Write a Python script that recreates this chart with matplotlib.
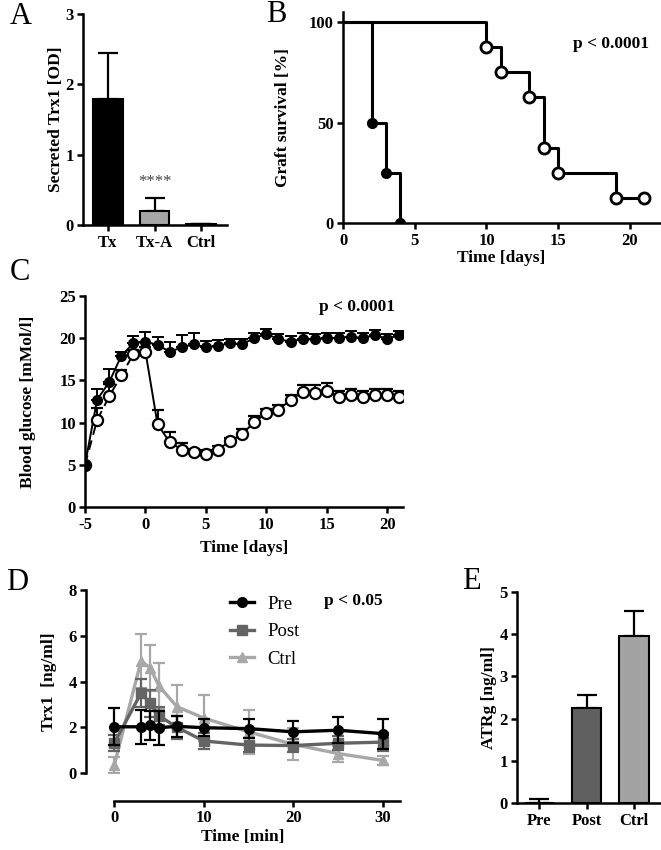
import matplotlib
matplotlib.use("Agg")
import matplotlib.pyplot as plt
import numpy as np

plt.rcParams.update({
    "font.family": "Liberation Serif",
    "font.weight": "bold",
    "axes.labelweight": "bold",
    "axes.unicode_minus": False,
    "axes.linewidth": 1.8,
    "xtick.major.width": 1.8,
    "ytick.major.width": 1.8,
    "xtick.major.size": 4.5,
    "ytick.major.size": 4.5,
    "xtick.major.pad": 2.5,
    "ytick.major.pad": 2,
    "xtick.labelsize": 12,
    "ytick.labelsize": 12,
    "axes.labelsize": 12.5,
})

# --- data ---
# A: secreted Trx1
a_groups = ["Tx", "Tx-A", "Ctrl"]
a_vals = [1.79, 0.20, 0.01]
a_err = [0.66, 0.19, 0.0]

# B: graft survival (Kaplan-Meier)
b_fill_t = [0, 2, 3, 4]
b_fill_s = [100, 50, 25, 0]
b_open_t = [0, 10, 11, 13, 14, 15, 19, 21]
b_open_s = [100, 87.5, 75, 62.5, 37.5, 25, 12.5, 12.5]

# C: blood glucose
c_days = list(range(-5, 22))
c_fill = [5.0, 12.7, 14.8, 17.9, 19.4, 19.6, 19.2, 18.4, 18.9, 19.3, 18.9, 19.1, 19.4, 19.3,
          20.0, 20.5, 19.9, 19.6, 19.9, 19.85, 20.0, 20.0, 20.2, 20.0, 20.4, 19.9, 20.4]
c_fill_err = [0.0, 1.3, 1.5, 0.5, 0.9, 1.1, 0.9, 1.2, 1.5, 1.3, 0.8, 0.7, 0.5, 0.6,
              0.6, 0.6, 0.6, 0.7, 0.7, 0.7, 0.6, 0.6, 0.7, 0.6, 0.6, 0.6, 0.5]
c_open = [5.0, 10.3, 13.1, 15.6, 18.1, 18.4, 9.8, 7.7, 6.8, 6.5, 6.3, 6.8, 7.8, 8.6,
          10.1, 11.1, 11.5, 12.7, 13.6, 13.5, 13.8, 13.0, 13.3, 13.0, 13.3, 13.3, 13.0]
c_open_err = [0.0, 1.4, 1.5, 0.6, 0.5, 0.5, 1.7, 1.2, 0.8, 0.4, 0.4, 0.4, 0.4, 0.6,
              0.7, 0.5, 0.6, 0.6, 0.9, 0.9, 0.9, 0.7, 0.7, 0.7, 0.7, 0.7, 0.7]

# D: Trx1 time course
d_time = [0, 3, 4, 5, 7, 10, 15, 20, 25, 30]
d_pre = [2.02, 2.02, 2.08, 1.98, 2.04, 1.98, 1.94, 1.8, 1.87, 1.72]
d_pre_err = [0.8, 0.75, 0.65, 0.75, 0.45, 0.38, 0.42, 0.48, 0.58, 0.65]
d_post = [1.3, 3.5, 3.05, 2.5, 2.0, 1.4, 1.22, 1.2, 1.3, 1.35]
d_post_err = [0.35, 0.63, 0.6, 0.38, 0.5, 0.35, 0.3, 0.3, 0.3, 0.4]
d_ctrl = [0.34, 4.9, 4.6, 3.8, 2.9, 2.4, 1.8, 1.25, 0.85, 0.55]
d_ctrl_err = [0.36, 1.18, 1.0, 1.0, 0.95, 1.0, 0.95, 0.7, 0.35, 0.2]

# E: ATRg
e_groups = ["Pre", "Post", "Ctrl"]
e_vals = [0.0, 2.25, 3.96]
e_err = [0.1, 0.3, 0.6]

W, H = 661, 850
fig = plt.figure(figsize=(W / 100, H / 100), dpi=100)


def box(x0, y_top, x1, y_bot):
    # pixel box -> figure fraction
    return [x0 / W, 1 - y_bot / H, (x1 - x0) / W, (y_bot - y_top) / H]


def clean(ax):
    ax.spines["top"].set_visible(False)
    ax.spines["right"].set_visible(False)


def letter(x, y, s):
    fig.text(x / W, 1 - y / H, s, fontsize=22, fontweight="normal", va="top", ha="left")


# ---------- A ----------
axA = fig.add_axes(box(83, 14, 227, 225))
clean(axA)
xa = np.arange(len(a_groups))
axA.bar(xa, a_vals, width=0.64, color=["black", "#a6a6a6", "white"],
        edgecolor="black", linewidth=1.5, zorder=2)
axA.errorbar(xa, a_vals, yerr=[np.zeros(3), a_err], fmt="none", ecolor="black",
             elinewidth=1.6, capsize=7, capthick=1.6, zorder=1)
axA.text(1, 0.5, "****", ha="center", va="bottom", fontsize=12, fontweight="normal", color="#444444")
axA.set_xlim(-0.53, 2.55)
axA.set_ylim(0, 3)
axA.set_yticks([0, 1, 2, 3])
axA.set_xticks(xa)
axA.set_xticklabels(a_groups)
axA.set_ylabel("Secreted Trx1 [OD]", labelpad=1)
letter(10, 2, "A")

# ---------- B ----------
axB = fig.add_axes(box(343, 12, 660, 223))
clean(axB)
axB.step(b_fill_t, b_fill_s, where="post", color="black", lw=2.2, zorder=2)
axB.step(b_open_t, b_open_s, where="post", color="black", lw=2.2, zorder=2)
axB.plot(b_fill_t[1:], b_fill_s[1:], "o", color="black", ms=7, zorder=3)
axB.plot(b_open_t[1:], b_open_s[1:], "o", mfc="white", mec="black", mew=2, ms=8, zorder=3)
axB.text(18.7, 89, "p < 0.0001", ha="center", va="center", fontsize=12.5)
axB.set_xlim(0, 22.1)
axB.set_ylim(0, 105)
axB.set_xticks([0, 5, 10, 15, 20])
axB.set_yticks([0, 50, 100])
axB.set_xlabel("Time [days]", labelpad=1)
axB.set_ylabel("Graft survival [%]", labelpad=13)
letter(266, 0, "B")

# ---------- C ----------
axC = fig.add_axes(box(85, 296, 403, 507))
clean(axC)
axC.plot(c_days[:6], c_open[:6], "--", color="black", lw=1.4, dashes=(5, 3), zorder=1)
axC.plot(c_days[5:], c_open[5:], "-", color="black", lw=1.4, zorder=1)
axC.plot(c_days, c_fill, "-", color="black", lw=1.4, zorder=1)
axC.errorbar(c_days, c_open, yerr=[np.zeros(len(c_open)), c_open_err], fmt="o",
             mfc="white", mec="black", mew=1.6, ms=8, ecolor="black", elinewidth=1.4,
             capsize=4, capthick=1.4, zorder=3)
axC.errorbar(c_days, c_fill, yerr=[np.zeros(len(c_fill)), c_fill_err], fmt="o",
             color="black", ms=7, elinewidth=1.4, capsize=4, capthick=1.4, zorder=4)
axC.text(17.5, 23.7, "p < 0.0001", ha="center", va="center", fontsize=12.5)
axC.set_xlim(-5, 21.3)
axC.set_ylim(0, 25)
axC.set_xticks([-5, 0, 5, 10, 15, 20])
axC.set_yticks([0, 5, 10, 15, 20, 25])
axC.set_xlabel("Time [days]", labelpad=5)
axC.set_ylabel("Blood glucose [mMol/l]", labelpad=17)
letter(10, 258, "C")

# ---------- D ----------
axD = fig.add_axes(box(86, 590, 400, 773))
clean(axD)
ec = axD.errorbar(d_time, d_ctrl, yerr=d_ctrl_err, fmt="-^", color="#a8a8a8", lw=2.4, ms=7,
                  elinewidth=1.6, capsize=4, capthick=1.6, zorder=1)
ep = axD.errorbar(d_time, d_post, yerr=d_post_err, fmt="-s", color="#646464", lw=2.4, ms=6.5,
                  elinewidth=1.6, capsize=4, capthick=1.6, zorder=2)
er = axD.errorbar(d_time, d_pre, yerr=d_pre_err, fmt="-o", color="black", lw=2.4, ms=7,
                  elinewidth=1.6, capsize=4, capthick=1.6, zorder=3)
axD.legend([er[0], ep[0], ec[0]], ["Pre", "Post", "Ctrl"], loc="upper left",
           bbox_to_anchor=(0.405, 1.06), frameon=False,
           prop={"weight": "normal", "size": 13.5}, handlelength=1.3, labelspacing=0.55,
           handletextpad=0.7)
axD.text(26.7, 7.5, "p < 0.05", ha="center", va="center", fontsize=12.5)
axD.set_xlim(-3.15, 31.9)
axD.set_ylim(0, 8)
axD.spines["bottom"].set_position(("outward", 20))
axD.spines["bottom"].set_bounds(0, 31.9)
axD.set_xticks([0, 10, 20, 30])
axD.set_yticks([0, 2, 4, 6, 8])
axD.set_xlabel("Time [min]", labelpad=2)
axD.set_ylabel("Trx1  [ng/ml]", labelpad=8)
letter(6, 568, "D")

# ---------- E ----------
axE = fig.add_axes(box(517, 592, 661, 803))
clean(axE)
xe = np.arange(len(e_groups))
axE.bar(xe, e_vals, width=0.62, color=["white", "#606060", "#a3a3a3"],
        edgecolor="black", linewidth=1.5, zorder=2)
axE.errorbar(xe, e_vals, yerr=[np.zeros(3), e_err], fmt="none", ecolor="black",
             elinewidth=1.6, capsize=7, capthick=1.6, zorder=1)
axE.set_xlim(-0.47, 2.57)
axE.set_ylim(0, 5)
axE.set_yticks([0, 1, 2, 3, 4, 5])
axE.set_xticks(xe)
axE.set_xticklabels(e_groups)
axE.set_ylabel("ATRg [ng/ml]", labelpad=2)
letter(462, 567, "E")

fig.savefig("out.png", dpi=100)
